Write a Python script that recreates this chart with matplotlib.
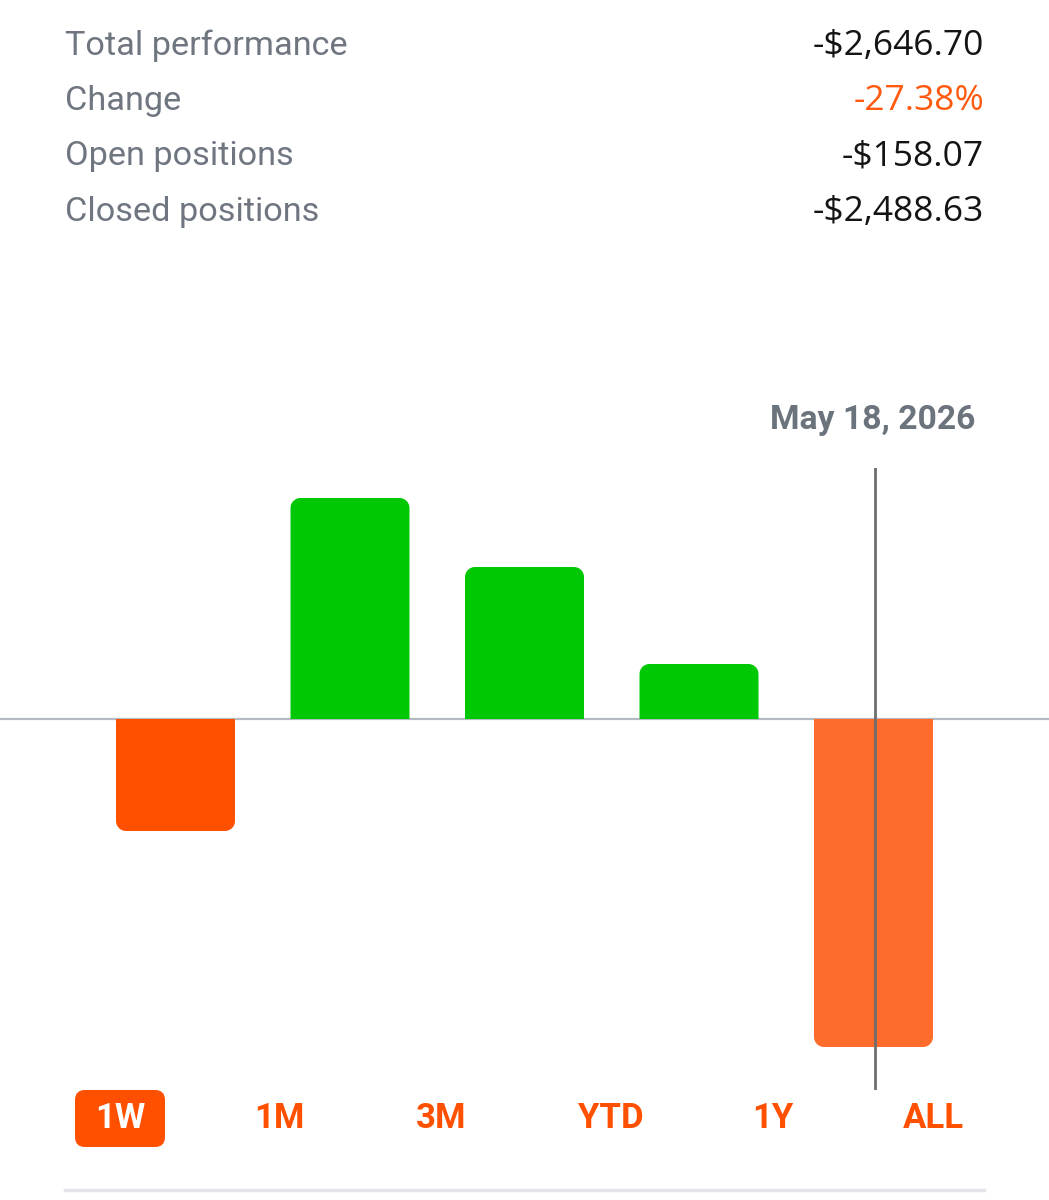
import numpy as np
import matplotlib.pyplot as plt
from matplotlib.patches import FancyBboxPatch, PathPatch
from matplotlib.path import Path

# summary rows at the top
row_labels = ['Total performance', 'Change', 'Open positions', 'Closed positions']
row_values = ['-$2,646.70', '-27.38%', '-$158.07', '-$2,488.63']
row_colors = ['#141414', '#FF5A0F', '#141414', '#141414']

# bar values (relative units)
bar_values = [-112, 221, 152, 55, -328]
bar_colors = ['#FF5000', '#00C805', '#00C805', '#00C805', '#FF6B2B']
selected_date = 'May 18, 2026'
selected_bar = 4

# time range buttons
ranges = ['1W', '1M', '3M', 'YTD', '1Y', 'ALL']
range_x = [120, 279, 441, 611, 773, 933]
active_range = 0

orange = '#FF5000'
W, H = 1049, 1200


def rounded_bar(x0, w, h, rx, ry):
    # bar outline, corners rounded only on the end away from zero
    s = np.sign(h)
    t = np.linspace(0, np.pi / 2, 10)
    left = [(x0 + rx - rx * np.cos(a), h - s * ry + s * ry * np.sin(a)) for a in t]
    right = [(x0 + w - rx + rx * np.sin(a), h - s * ry + s * ry * np.cos(a)) for a in t]
    verts = [(x0, 0)] + left + right + [(x0 + w, 0), (x0, 0)]
    return Path(verts, closed=True)


fig = plt.figure(figsize=(W / 100, H / 100), dpi=100)
fig.patch.set_facecolor('white')

# overlay axes in pixel coordinates for the text parts
ov = fig.add_axes([0, 0, 1, 1])
ov.set_xlim(0, W)
ov.set_ylim(H, 0)
ov.axis('off')

row_y = [46, 101, 156, 212]
for lab, val, col, y in zip(row_labels, row_values, row_colors, row_y):
    ov.text(65, y, lab, fontsize=24.7, color='#6F7680', family='Roboto',
            ha='left', va='center')
    ov.text(984, y, val, fontsize=25.5, color=col, family='Open Sans',
            ha='right', va='center')

# chart axes: top at y=468 px, bottom at y=1090 px
top_px, bot_px, zero_px = 468, 1090, 719
ax = fig.add_axes([0, (H - bot_px) / H, 1, (bot_px - top_px) / H])
ax.axis('off')
step = 174.5
ax.set_xlim(-175.5 / step, (W - 175.5) / step)
ax.set_ylim(-(bot_px - zero_px), zero_px - top_px)

x = np.arange(len(bar_values))
width = 119 / step
bars = ax.bar(x, bar_values, width=width, color=bar_colors)
# swap the plain rectangles for ones with rounded outer corners
for b, c in zip(bars, bar_colors):
    b.set_visible(False)
    path = rounded_bar(b.get_x(), b.get_width(), b.get_height(), 10 / step, 10)
    ax.add_patch(PathPatch(path, facecolor=c, edgecolor='none', zorder=2))

ax.axhline(0, color='#B4BAC2', lw=1.6, zorder=1)
ax.axvline(x[selected_bar] + 1.5 / step, color='#6E6E6E', lw=2, zorder=3)

ov.text(873, 420, selected_date, fontsize=24.3, fontweight='bold', color='#6B737C',
        family='Roboto', ha='center', va='center')

# range buttons
for i, (lab, xc) in enumerate(zip(ranges, range_x)):
    if i == active_range:
        ov.add_patch(FancyBboxPatch((75 + 10, 1090 + 10), 90 - 20, 57 - 20,
                                    boxstyle='round,pad=10', facecolor=orange,
                                    edgecolor='none'))
        col = 'white'
    else:
        col = orange
    ov.text(xc, 1119, lab, fontsize=25, fontweight='bold', color=col,
            family='Roboto', ha='center', va='center')

ov.plot([65, 984], [1190, 1190], color='#E3E5E8', lw=2.5)

fig.savefig('out.png', dpi=100, facecolor='white')
